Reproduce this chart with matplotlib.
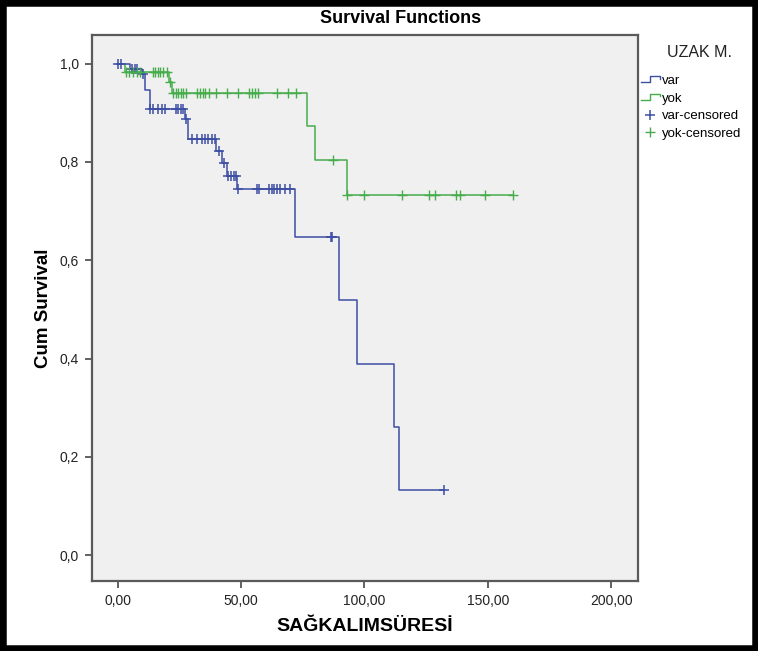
import numpy as np
import matplotlib
matplotlib.use("Agg")
import matplotlib.pyplot as plt
from matplotlib.lines import Line2D
from matplotlib.patches import Rectangle
from matplotlib.legend_handler import HandlerBase

plt.rcParams['font.family'] = ['Liberation Sans', 'DejaVu Sans']

# Kaplan-Meier steps
var_times = [0, 5.0, 9.9, 11.1, 13.1, 27.3, 28.5, 39.9, 42.3, 44.3, 48.4,
             71.8, 89.7, 97.0, 112.0, 114.1, 132.3]
var_surv = [1.0, 0.99, 0.98, 0.946, 0.907, 0.888, 0.847, 0.823, 0.797,
            0.771, 0.745, 0.647, 0.519, 0.390, 0.260, 0.132, 0.132]

yok_times = [0, 3.0, 20.8, 22.0, 76.8, 80.1, 93.0, 160.2]
yok_surv = [1.0, 0.983, 0.963, 0.940, 0.873, 0.805, 0.732, 0.732]

# censored times
var_cens = [0.1, 1.2, 5.7, 7.0, 7.7, 10.1, 13.1, 14.4, 16.5, 17.8, 19.2,
            23.6, 24.6, 25.5, 26.6, 27.8, 30.0, 32.0, 34.1, 35.4, 36.7,
            38.1, 39.5, 41.0, 43.0, 44.8, 46.0, 47.2, 48.0, 48.9, 56.4,
            57.3, 61.5, 62.4, 63.4, 64.5, 65.8, 67.8, 69.8, 86.5, 86.8,
            132.3]
yok_cens = [3.4, 4.7, 6.1, 7.7, 9.0, 14.2, 15.1, 16.2, 17.2, 18.2, 20.1,
            21.2, 22.5, 23.6, 24.6, 25.5, 26.6, 27.7, 32.3, 33.4, 34.5,
            35.4, 37.1, 39.9, 44.2, 48.9, 53.4, 54.3, 55.7, 57.0, 64.7,
            68.9, 72.2, 87.2, 93.1, 100.0, 115.2, 126.4, 128.7, 137.1,
            138.8, 149.0, 160.2]

group_title = "UZAK M."
labels = ["var", "yok", "var-censored", "yok-censored"]
blue = '#3d4fa5'
green = '#47ad4c'


def surv_at(times, surv, t):
    idx = np.searchsorted(times, t, side='right') - 1
    return np.asarray(surv)[idx]


class HandlerStep(HandlerBase):
    def create_artists(self, legend, orig_handle, xdescent, ydescent,
                       width, height, fontsize, trans):
        x0 = -xdescent
        y0 = -ydescent
        xs = [x0, x0 + width * 0.5, x0 + width * 0.5, x0 + width, x0 + width]
        ys = [y0 + height * 0.2, y0 + height * 0.2, y0 + height * 0.85,
              y0 + height * 0.85, y0 + height * 0.6]
        ln = Line2D(xs, ys, color=orig_handle.get_color(), lw=1.0,
                    transform=trans)
        return [ln]


fig = plt.figure(figsize=(7.58, 6.51), dpi=100)
ax = fig.add_axes([0.121, 0.107, 0.721, 0.839])
ax.set_facecolor('#f0f0f0')

l1, = ax.step(var_times, var_surv, where='post', color=blue, lw=1.1)
l2, = ax.step(yok_times, yok_surv, where='post', color=green, lw=1.1)
l3, = ax.plot(var_cens, surv_at(var_times, var_surv, var_cens), ls='none',
              marker='+', ms=7.5, mew=1.1, color=blue)
l4, = ax.plot(yok_cens, surv_at(yok_times, yok_surv, yok_cens), ls='none',
              marker='+', ms=7.5, mew=1.0, color=green)

ax.set_xlim(-10.5, 211)
ax.set_ylim(-0.053, 1.058)
ax.set_xticks([0, 50, 100, 150, 200])
ax.set_xticklabels(['0,00', '50,00', '100,00', '150,00', '200,00'])
ax.set_yticks([0, 0.2, 0.4, 0.6, 0.8, 1.0])
ax.set_yticklabels(['0,0', '0,2', '0,4', '0,6', '0,8', '1,0'])
ax.tick_params(axis='both', direction='out', length=5, width=1.3,
               color='#555555', labelsize=10, labelcolor='#222222', pad=4)
for s in ax.spines.values():
    s.set_color('#5a5a5a')
    s.set_linewidth(1.6)

ax.set_xlabel('SAĞKALIMSÜRESİ', fontsize=14, fontweight='bold', labelpad=7)
ax.set_ylabel('Cum Survival', fontsize=13.5, fontweight='bold', labelpad=6)
fig.text(0.528, 0.971, 'Survival Functions', ha='center', va='center',
         fontsize=13, fontweight='bold')

fig.text(0.923, 0.92, group_title, ha='center', va='center', fontsize=11.5,
         color='#222222')
leg = fig.legend([l1, l2, l3, l4], labels, loc='upper left',
                 bbox_to_anchor=(0.845, 0.885), frameon=False, fontsize=9.5,
                 handlelength=1.5, handletextpad=0.15, labelspacing=0.4,
                 borderaxespad=0, borderpad=0,
                 handler_map={l1: HandlerStep(), l2: HandlerStep()})

fig.add_artist(Rectangle((0, 0), 1, 1, transform=fig.transFigure,
                         fill=False, ec='black', lw=9))

fig.savefig('out.png', dpi=100)
